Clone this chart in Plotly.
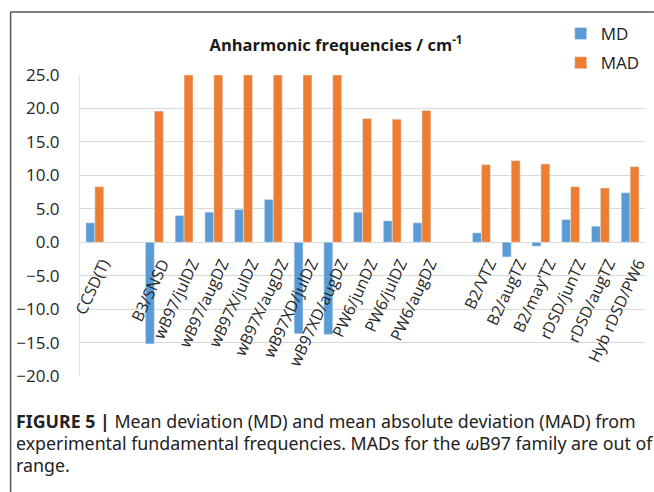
import plotly.graph_objects as go

categories = ["CCSD(T)", " ", "B3/SNSD", "wB97/julDZ", "wB97/augDZ", "wB97X/julDZ",
              "wB97X/augDZ", "wB97XD/julDZ", "wB97XD/augDZ", "PW6/junDZ", "PW6/julDZ",
              "PW6/augDZ", "  ", "B2/VTZ", "B2/augTZ", "B2/may'TZ", "rDSD/junTZ",
              "rDSD/augTZ", "Hyb rDSD/PW6"]
md_values = [2.9, None, -15.2, 4.0, 4.5, 4.9, 6.4, -13.7, -13.8, 4.5, 3.2, 2.9,
             None, 1.4, -2.2, -0.6, 3.4, 2.4, 7.4]
mad_values = [8.3, None, 19.6, 25.0, 25.0, 25.0, 25.0, 25.0, 25.0, 18.5, 18.4, 19.7,
              None, 11.6, 12.2, 11.7, 8.3, 8.1, 11.3]
y_range = [-20, 25]
y_ticks = [-20, -15, -10, -5, 0, 5, 10, 15, 20, 25]

W, H = 654, 492
L, R, T, B = 80, 4, 75, 116
pw, ph = W - L - R, H - T - B

def px_x(x):
    return (x - L) / pw

def px_y(y):
    return 1 - (y - T) / ph

MD_COLOR = "#5B9BD5"
MAD_COLOR = "#ED7D31"
FONT = "Open Sans"

fig = go.Figure()
fig.add_trace(go.Bar(x=categories, y=md_values, name="MD", marker_color=MD_COLOR,
                     legendgroup="a"))
fig.add_trace(go.Bar(x=categories, y=mad_values, name="MAD", marker_color=MAD_COLOR,
                     legendgroup="b"))

zero_pos = (0 - y_range[0]) / (y_range[1] - y_range[0])

fig.update_layout(
    width=W, height=H,
    margin=dict(l=L, r=R, t=T, b=B),
    paper_bgcolor="white", plot_bgcolor="white",
    barmode="group", bargap=0.4, bargroupgap=0,
    font=dict(family=FONT, color="#404040"),
    title=dict(text="<b>Anharmonic frequencies / cm<sup>-1</sup></b>",
               xref="container", yref="container", x=336 / W, y=1 - 45 / H,
               xanchor="center", yanchor="middle",
               font=dict(family=FONT, size=16.5, color="#1a1a1a")),
    legend=dict(x=px_x(565), y=px_y(16), xanchor="left", yanchor="top",
                font=dict(family=FONT, size=17, color="#222"),
                traceorder="grouped", tracegroupgap=4, itemwidth=30,
                bgcolor="rgba(0,0,0,0)"),
    xaxis=dict(type="category", categoryorder="array", categoryarray=categories,
               anchor="free", position=zero_pos, showgrid=False,
               showline=False, ticks="", tickangle=-65,
               ticklabelstandoff=8, ticklabelshift=8,
               tickfont=dict(family=FONT, size=16, color="#262626")),
    yaxis=dict(range=y_range, tickvals=y_ticks, tickformat=".1f",
               showgrid=True, gridcolor="#D9D9D9", gridwidth=1,
               zeroline=True, zerolinecolor="#D9D9D9", zerolinewidth=1,
               showline=True, linecolor="#E3E3E3", linewidth=1,
               ticks="", ticklabelstandoff=16,
               tickfont=dict(family=FONT, size=17, color="#262626")),
)

# outer frame (top and left edges)
fig.add_shape(type="line", xref="paper", yref="paper",
              x0=px_x(10), x1=px_x(W + 5), y0=px_y(12), y1=px_y(12),
              line=dict(color="#555", width=1.5))
fig.add_shape(type="line", xref="paper", yref="paper",
              x0=px_x(10), x1=px_x(10), y0=px_y(12), y1=px_y(H + 5),
              line=dict(color="#555", width=1.5))

caption = [
    "<b>FIGURE 5 |</b> Mean deviation (MD) and mean absolute deviation (MAD) from",
    "experimental fundamental frequencies. MADs for the <i>ω</i>B97 family are out of",
    "range.",
]
for i, line in enumerate(caption):
    fig.add_annotation(text=line, xref="paper", yref="paper",
                       x=px_x(13), y=px_y(421 + 22 * i), xanchor="left", yanchor="middle",
                       showarrow=False,
                       font=dict(family="Noto Sans", size=17.8, color="#222"))

fig.write_html("out.html")
